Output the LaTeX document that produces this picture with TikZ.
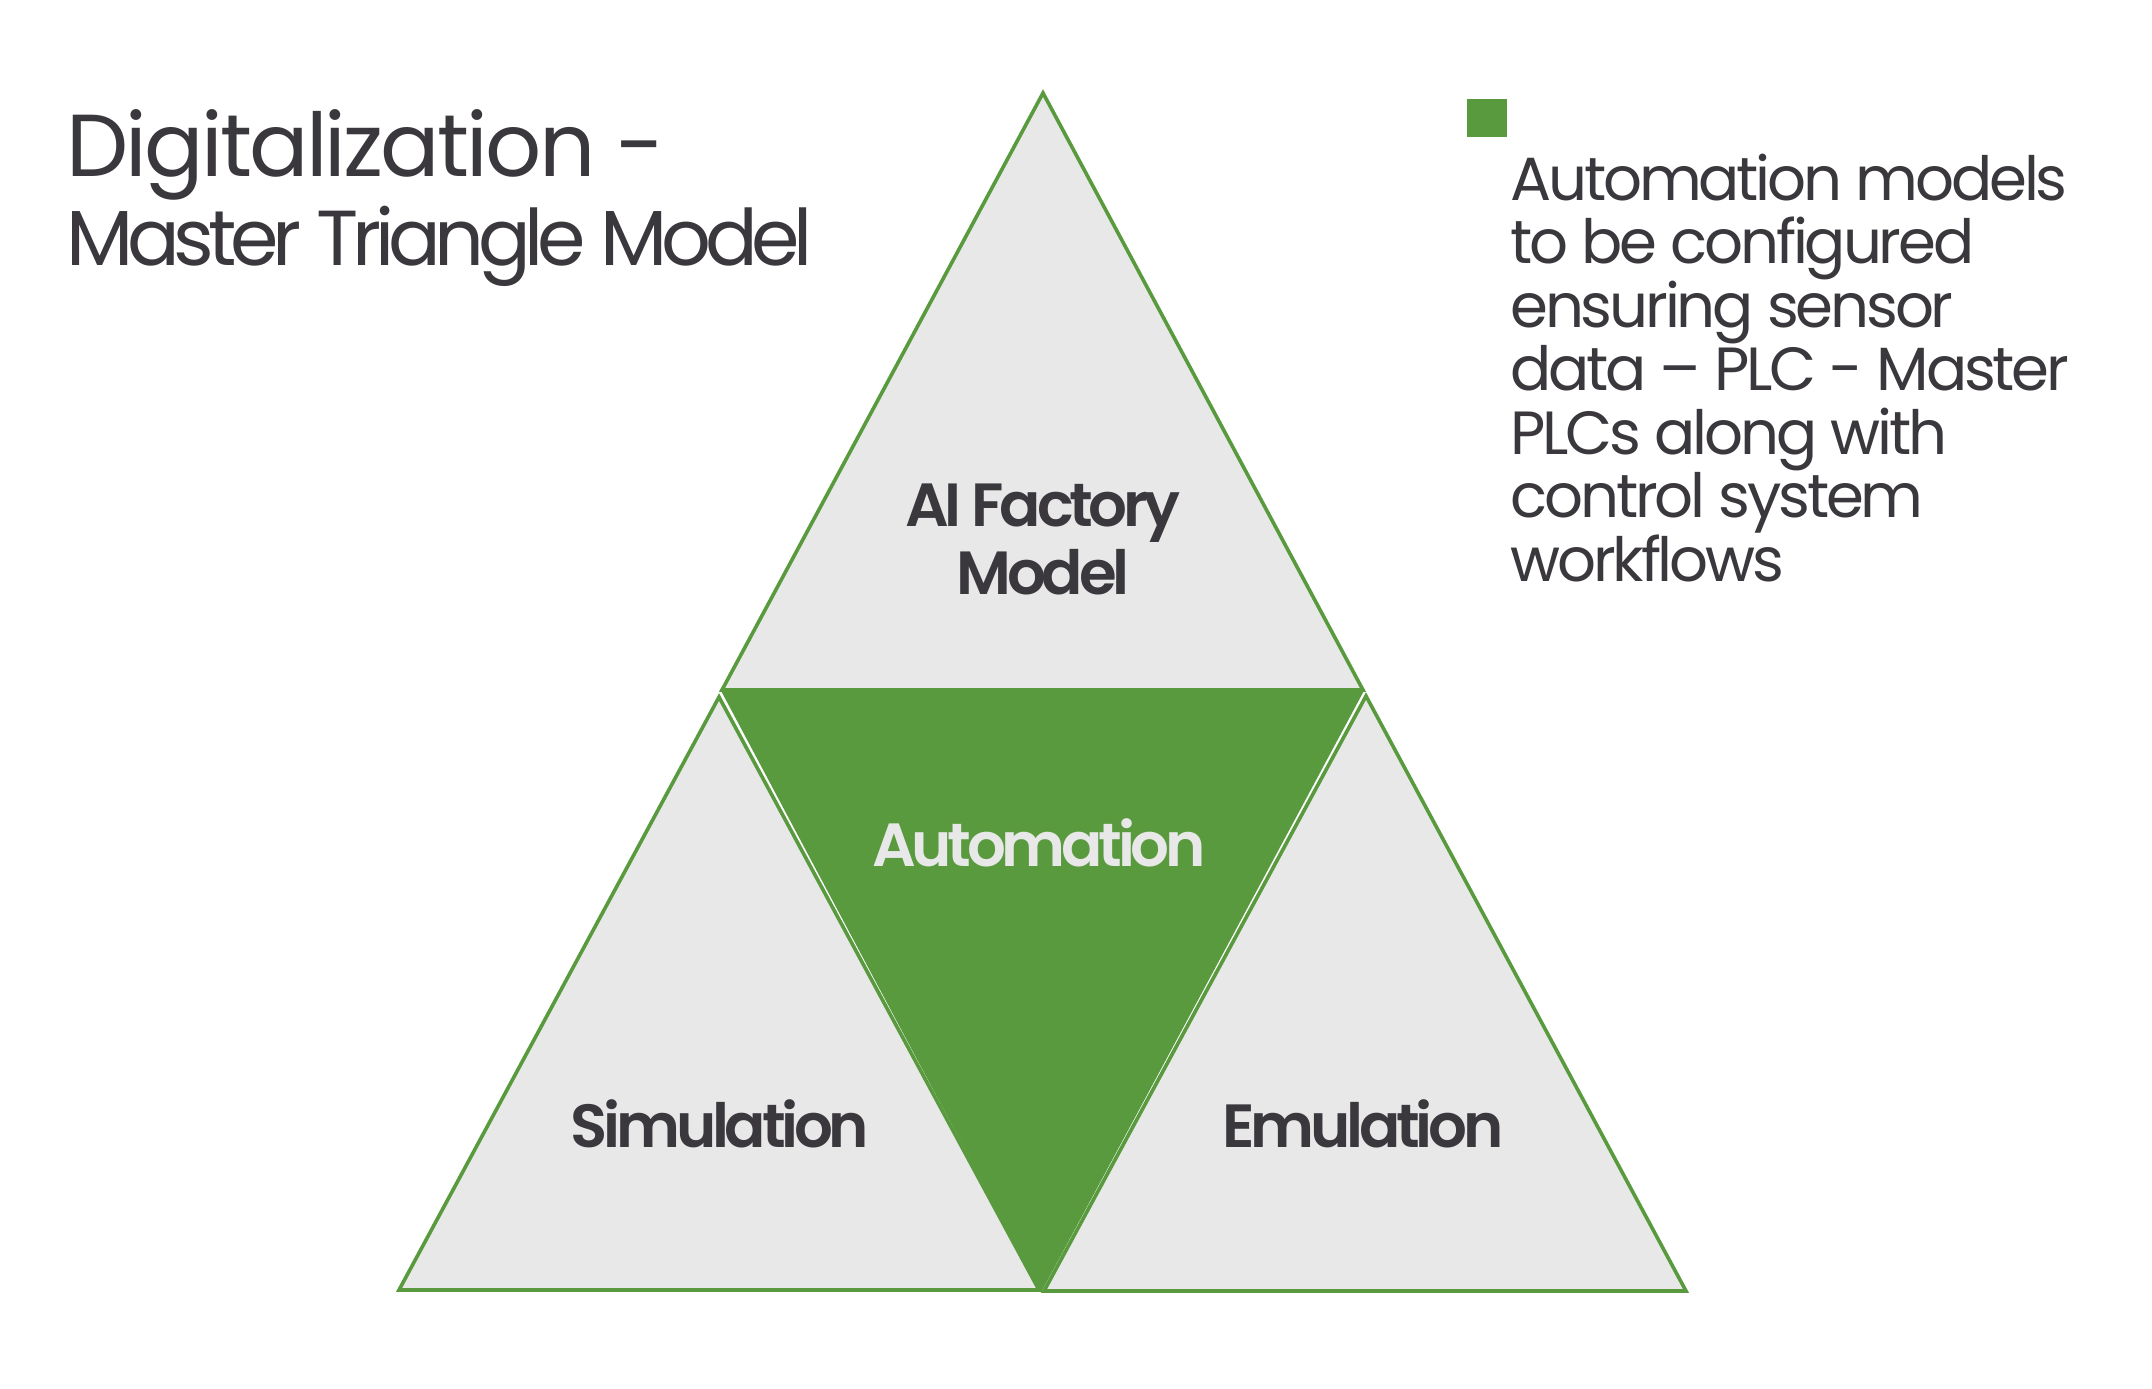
\documentclass[tikz,border=0pt]{standalone}
\usepackage{fontspec}
\setmainfont{Poppins}[BoldFont={Poppins SemiBold}]
\newfontfamily\lblfont{Poppins SemiBold}[LetterSpace=-7]
\newfontfamily\ttlafont{Poppins}[LetterSpace=-3.2]
\newfontfamily\ttlbfont{Poppins}[LetterSpace=-8]
\newfontfamily\bodyfont{Poppins}[LetterSpace=-5.2]
\definecolor{tgreen}{RGB}{89,154,62}
\definecolor{tgray}{RGB}{232,232,232}
\definecolor{tdark}{RGB}{58,56,61}
\begin{document}
\begin{tikzpicture}[x=0.5pt,y=-0.5pt,
  tri/.style={fill=tgray,draw=tgreen,line width=1.8pt,line join=miter},
  gtri/.style={fill=tgreen,draw=tgreen,line width=1.2pt,line join=miter},
  lbl/.style={anchor=base,font=\lblfont\fontsize{30.5}{32}\selectfont,text=tdark,inner sep=0pt},
  ttl/.style={anchor=base west,text=tdark,inner sep=0pt},
  body/.style={anchor=base west,text=tdark,inner sep=0pt,font=\bodyfont\fontsize{30.5}{31.8}\selectfont}]
\useasboundingbox (0,0) rectangle (2152,1388);
\fill[white] (0,0) rectangle (2152,1388);
% coordinates
\coordinate (tA) at (1043,93);
\coordinate (tL) at (722,690);
\coordinate (tR) at (1363,690);
\coordinate (lA) at (719,697);
\coordinate (lL) at (399,1290);
\coordinate (lR) at (1039,1290);
\coordinate (rA) at (1366,696);
\coordinate (rL) at (1044,1291);
\coordinate (rR) at (1686,1291);
\coordinate (gB) at (1041,1290);
% triangles
\draw[tri] (tA) -- (tR) -- (tL) -- cycle;
\draw[tri] (lA) -- (lR) -- (lL) -- cycle;
\draw[tri] (rA) -- (rR) -- (rL) -- cycle;
\draw[gtri] (tL) -- (tR) -- (gB) -- cycle;
% labels
\node[lbl] (ai) at (1043,526) {AI Factory};
\node[lbl] (model) at (1043,594) {Model};
\node[lbl,text=tgray] (auto) at (1039,866) {Automation};
\node[lbl] (sim) at (720,1147) {Simulation};
\node[lbl] (emu) at (1363,1147) {Emulation};
% title
\node[ttl,font=\ttlafont\fontsize{44}{46}\selectfont] (t1) at (66,176) {Digitalization -};
\node[ttl,font=\ttlbfont\fontsize{39}{41}\selectfont] (t2) at (66,265) {Master Triangle Model};
% legend
\fill[tgreen] (1467,99) rectangle (1507,137);
\node[body] (b1) at (1510,200) {Automation models};
\node[body] (b2) at (1510,263.5) {to be configured};
\node[body] (b3) at (1510,327) {ensuring sensor};
\node[body] (b4) at (1510,390.5) {data – PLC - Master};
\node[body] (b5) at (1510,454) {PLCs along with};
\node[body] (b6) at (1510,517.5) {control system};
\node[body] (b7) at (1510,581) {workflows};
\end{tikzpicture}
\end{document}
